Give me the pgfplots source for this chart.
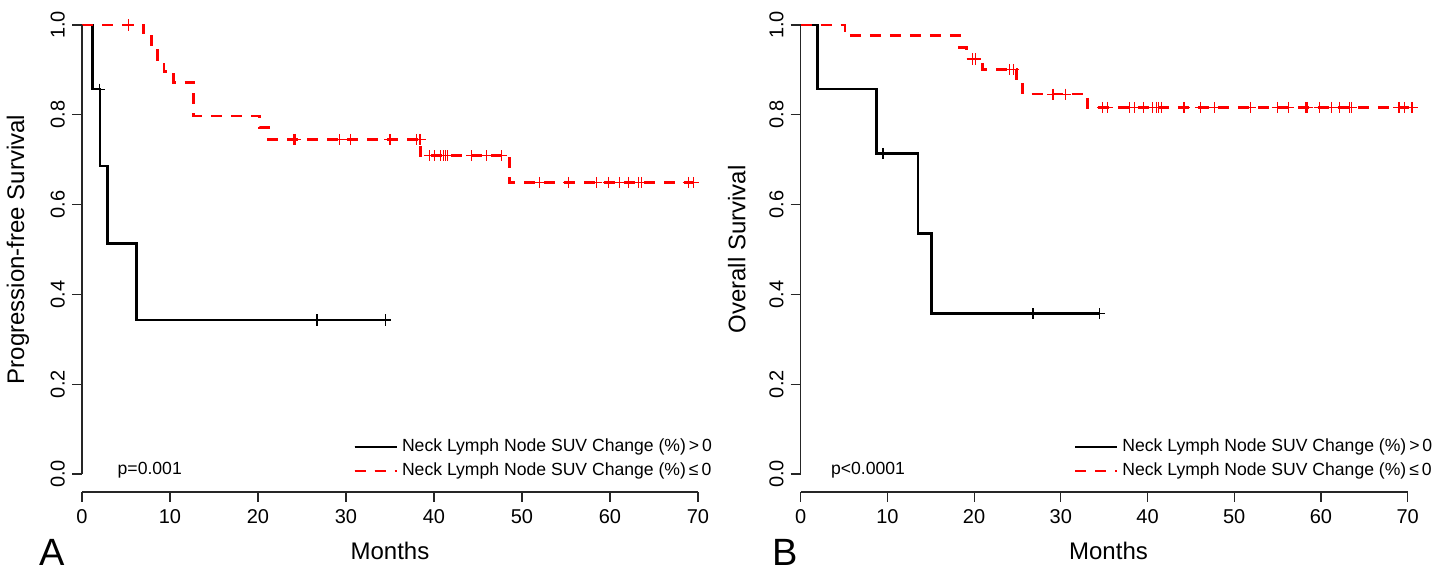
\documentclass[border=0pt]{standalone}
\usepackage{fontspec}
\setmainfont{Liberation Sans}
\usepackage{pgfplots}
\pgfplotsset{compat=1.18}

\tikzset{panel/.style={font=\fontsize{19}{23}\selectfont, inner sep=0pt}}
\pgfplotsset{
  kmaxis/.style={
    scale only axis, height=242.5pt,
    xmin=0, ymin=-0.04, ymax=1.04,
    clip=false,
    axis x line*=bottom, axis y line*=left,
    axis line style={draw=none},
    xtick={0,10,...,70}, ytick={0,0.2,0.4,0.6,0.8,1},
    tick align=outside, major tick length=5pt,
    tick style={black!85, line width=0.6pt},
    /pgf/number format/assume math mode=true,
    ticklabel style={font=\fontsize{10}{12}\selectfont},
    yticklabel style={rotate=90, anchor=south,
      /pgf/number format/fixed, /pgf/number format/fixed zerofill,
      /pgf/number format/precision=1},
    xlabel={Months},
    xlabel style={at={(rel axis cs:0.5,-0.122)}, anchor=center, font=\fontsize{12}{14}\selectfont},
    ylabel style={at={(rel axis cs:-0.104,0.5)}, anchor=center, font=\fontsize{12}{14}\selectfont},
    legend style={draw=none, fill=none, font=\fontsize{8.8}{10}\selectfont,
      anchor=south west, inner sep=0pt, row sep=0pt,
      nodes={text height=6.5pt, text depth=2pt, inner ysep=1.75pt}},
    legend cell align=left,
    legend image code/.code={\draw[#1] (0pt,0pt) -- (16pt,0pt); \path (0pt,0pt) -- (21pt,0pt);},
  },
  kmblack/.style={black, line width=1.3pt, const plot},
  kmred/.style={red, line width=1.3pt, const plot, dash pattern=on 5.5pt off 4.5pt},
  cens/.style={only marks, mark=+, mark size=2.8pt, mark options={line width=0.6pt, solid}, forget plot},
}

\begin{document}
\begin{tikzpicture}
\path[use as bounding box] (0,0) rectangle (723.5pt,286pt);

% Panel A: progression-free survival
\begin{axis}[kmaxis, at={(41pt,40pt)}, anchor=south west, width=308pt, xmax=70,
  ylabel={Progression-free Survival},
  legend style={at={(axis cs:30.8,-0.021)}}]
\addplot[kmblack] coordinates {(0,1) (1.2,0.857) (2.05,0.686) (2.9,0.514) (6.2,0.343) (34.5,0.343)};
\addlegendentry{Neck Lymph Node SUV Change (\%)\,>\,0}
\addplot[kmred] coordinates {(0,1) (7.0,0.974) (7.9,0.949) (8.6,0.923) (9.3,0.897) (10.4,0.872)
  (12.7,0.797) (20.2,0.771) (21.2,0.745) (38.5,0.709) (48.6,0.649) (69.6,0.649)};
\addlegendentry{Neck Lymph Node SUV Change (\%)\,≤\,0}
\addplot[cens, black] coordinates {(2.0,0.857) (26.7,0.343) (34.5,0.343)};
\addplot[cens, red] coordinates {(5.3,1)
  (24.0,0.745) (24.2,0.745) (29.3,0.745) (30.5,0.745) (35.0,0.745) (38.0,0.745) (38.4,0.745)
  (39.5,0.709) (40.1,0.709) (40.7,0.709) (41.1,0.709) (41.3,0.709) (41.5,0.709) (44.3,0.709) (46.0,0.709) (47.7,0.709)
  (52.0,0.649) (55.3,0.649) (58.5,0.649) (59.8,0.649) (61.1,0.649) (62.1,0.649) (63.2,0.649) (63.6,0.649) (68.9,0.649) (69.5,0.649)};
\draw[black!85, line width=0.6pt] (axis cs:0,-0.04) -- (axis cs:70,-0.04);
\draw[black!85, line width=0.6pt] (axis cs:0,0) -- (axis cs:0,1);
\node[font=\fontsize{8.8}{10}\selectfont] at (axis cs:7.7,0.009) {p=0.001};
\node[panel] at (rel axis cs:-0.048,-0.124) {A};
\end{axis}

% Panel B: overall survival
\begin{axis}[kmaxis, at={(400.35pt,40pt)}, anchor=south west, width=307.8pt, xmax=71,
  ylabel={Overall Survival},
  legend style={at={(axis cs:31.45,-0.021)}}]
\addplot[kmblack] coordinates {(0,1) (1.92,0.857) (8.74,0.714) (13.55,0.536) (15.1,0.357) (34.5,0.357)};
\addlegendentry{Neck Lymph Node SUV Change (\%)\,>\,0}
\addplot[kmred] coordinates {(0,1) (5.1,0.976) (18.3,0.950) (19.1,0.924) (21.0,0.901) (24.9,0.874)
  (25.6,0.846) (33.1,0.816) (70.8,0.816)};
\addlegendentry{Neck Lymph Node SUV Change (\%)\,≤\,0}
\addplot[cens, black] coordinates {(9.5,0.714) (26.8,0.357) (34.5,0.357)};
\addplot[cens, red] coordinates {(19.8,0.924) (20.2,0.924) (24.1,0.901) (24.5,0.901) (29.1,0.846) (30.5,0.846)
  (34.8,0.816) (35.4,0.816) (37.9,0.816) (38.5,0.816) (39.5,0.816) (40.6,0.816) (41.0,0.816) (41.3,0.816) (41.6,0.816)
  (44.2,0.816) (46.1,0.816) (47.7,0.816) (51.9,0.816) (55.0,0.816) (56.3,0.816) (58.2,0.816) (58.4,0.816)
  (59.8,0.816) (61.2,0.816) (62.1,0.816) (63.3,0.816) (63.5,0.816) (69.0,0.816) (69.6,0.816) (70.5,0.816)};
\draw[black!85, line width=0.6pt] (axis cs:0,-0.04) -- (axis cs:70,-0.04);
\draw[black!85, line width=0.6pt] (axis cs:0,0) -- (axis cs:0,1);
\node[font=\fontsize{8.8}{10}\selectfont] at (axis cs:7.77,0.009) {p<0.0001};
\node[panel] at (rel axis cs:-0.0255,-0.124) {B};
\end{axis}
\end{tikzpicture}
\end{document}
